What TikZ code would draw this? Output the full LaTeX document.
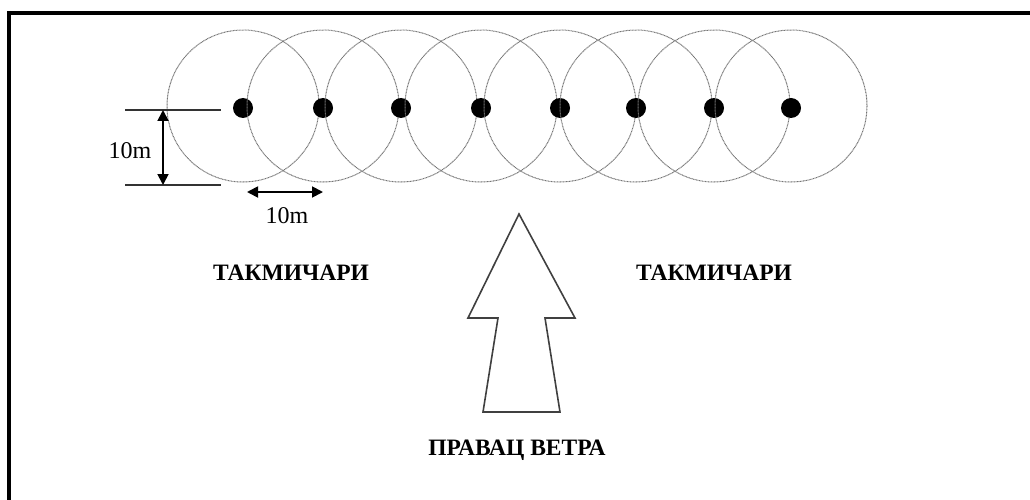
\documentclass[tikz,border=0pt]{standalone}
\usepackage{fontspec}
\setmainfont{Liberation Serif}
\usetikzlibrary{arrows.meta}
\tikzset{
  zone/.style={draw=black!55, line width=1pt, dash pattern=on 0.9pt off 0.6pt},
  competitor/.style={circle, fill=black, inner sep=0pt, minimum size=20pt},
  frameline/.style={line width=4pt, black},
  extline/.style={line width=1.1pt, black!80},
  dimarrow/.style={line width=1.8pt, {Triangle[length=11pt,width=11pt]}-{Triangle[length=11pt,width=11pt]}},
  dimlabel/.style={font=\fontsize{24}{24}\selectfont, inner sep=0pt},
  biglabel/.style={font=\fontsize{23.5}{24}\selectfont\bfseries, inner sep=0pt},
  windarrow/.style={draw=black!75, line width=1.6pt, fill=white, line join=miter}
}
\begin{document}
\begin{tikzpicture}[x=1pt,y=-1pt]
\useasboundingbox (0,0) rectangle (1030,500);
% frame: top and left edges
\draw[frameline] (7,13) -- (1030,13);
\draw[frameline] (9,11) -- (9,500);
% competitors and their 10 m zones
\foreach \i/\x in {1/243,2/323,3/401,4/481,5/560,6/636,7/714,8/791}{
  \draw[zone] (\x,106) circle[radius=76];
  \node[competitor] (c\i) at (\x,108) {};
}
% vertical dimension
\coordinate (ea1) at (125,110);
\coordinate (eb1) at (221,110);
\coordinate (ea2) at (125,185);
\coordinate (eb2) at (221,185);
\draw[extline] (ea1) -- (eb1);
\draw[extline] (ea2) -- (eb2);
\coordinate (va) at (163,110);
\coordinate (vb) at (163,185);
\draw[dimarrow] (va) -- (vb);
\node[dimlabel] (lv) at (130,151) {10m};
% horizontal dimension
\coordinate (ha) at (247,192);
\coordinate (hb) at (323,192);
\draw[dimarrow] (ha) -- (hb);
\node[dimlabel] (lh) at (287,216) {10m};
% labels
\node[biglabel] (tl) at (291,273) {ТАКМИЧАРИ};
\node[biglabel] (tr) at (714,273) {ТАКМИЧАРИ};
% wind direction arrow
\draw[windarrow] (519,214) -- (575,318) -- (545,318) -- (560,412) -- (483,412)
  -- (498,318) -- (468,318) -- cycle;
\node[biglabel] (wd) at (517,450) {ПРАВАЦ ВЕТРА};
\end{tikzpicture}
\end{document}
